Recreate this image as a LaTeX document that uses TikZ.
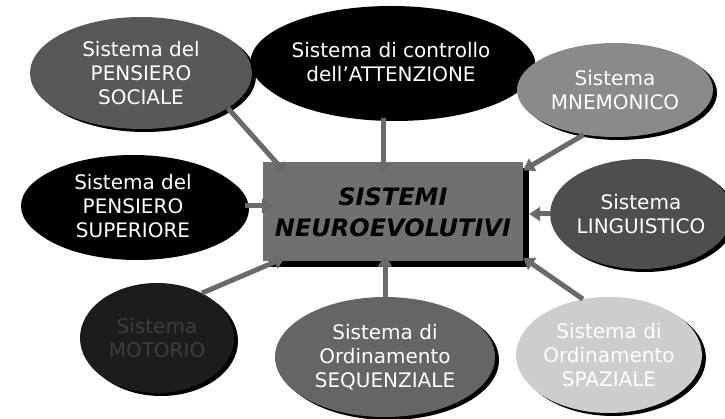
\documentclass[tikz,border=0pt]{standalone}
\usepackage{fontspec}
\setmainfont{DejaVu Sans}
\usepackage{xcolor}
\usetikzlibrary{shapes.geometric, arrows.meta, positioning, calc, shadows}

\definecolor{socfill}{HTML}{585858}
\definecolor{mnefill}{HTML}{8A8A8A}
\definecolor{linfill}{HTML}{4E4E4E}
\definecolor{motfill}{HTML}{1C1C1C}
\definecolor{mottext}{HTML}{3C3C3C}
\definecolor{seqfill}{HTML}{656565}
\definecolor{spafill}{HTML}{CDCDCD}
\definecolor{corefill}{HTML}{707070}
\definecolor{arrgray}{HTML}{6A6A6A}

\begin{document}
\begin{tikzpicture}[x=1pt, y=-1pt,
  ell/.style={ellipse, inner sep=0pt, align=center, text=white,
    font=\fontsize{20}{24}\selectfont,
    drop shadow={shadow xshift=4pt, shadow yshift=-3pt, fill=black, opacity=1}},
  core/.style={rectangle, fill=corefill, align=center,
    minimum width=260pt, minimum height=99pt,
    font=\fontsize{24}{31}\selectfont\bfseries\itshape,
    drop shadow={shadow xshift=6pt, shadow yshift=-6pt, fill=black, opacity=1}},
  arr/.style={line width=5pt, draw=arrgray, -{Triangle[width=14pt,length=11pt]}}]

  \useasboundingbox (0,0) rectangle (725,419);

  % centre box
  \node[core] (core) at (393,212) {SISTEMI\\NEUROEVOLUTIVI};

  % systems
  \node[ell, fill=socfill, minimum width=222pt, minimum height=112pt] (soc) at (141,73) {Sistema del\\PENSIERO\\SOCIALE};
  \node[ell, fill=black, minimum width=220pt, minimum height=112pt] (att) at (391,62) {Sistema di controllo\\dell'ATTENZIONE};
  \node[ell, fill=mnefill, minimum width=196pt, minimum height=94pt] (mne) at (615,90) {Sistema\\MNEMONICO};
  \node[ell, fill=black, minimum width=224pt, minimum height=102pt] (sup) at (133,206) {Sistema del\\PENSIERO\\SUPERIORE};
  \node[ell, fill=linfill, minimum width=168pt, minimum height=110pt] (lin) at (641,214) {Sistema\\LINGUISTICO};
  \node[ell, fill=motfill, text=mottext, minimum width=154pt, minimum height=110pt] (mot) at (157,338) {Sistema\\MOTORIO};
  \node[ell, fill=seqfill, minimum width=220pt, minimum height=120pt] (seq) at (385,357) {Sistema di\\Ordinamento\\SEQUENZIALE};
  \node[ell, fill=spafill, minimum width=182pt, minimum height=116pt] (spa) at (609,355) {Sistema di\\Ordinamento\\SPAZIALE};

  % arrows into the centre
  \draw[arr] (soc.-22) -- ($(core.north west)+(24,12)$);
  \draw[arr] ($(att.south)+(-8,0)$) -- ($(core.north)+(-10,12)$);
  \draw[arr] (mne.-125) -- ($(core.north east)+(0,8)$);
  \draw[arr] (sup.east) -- ($(core.west |- sup.east)+(10,0)$);
  \draw[arr] (lin.west) -- ($(core.east |- lin.west)+(6,0)$);
  \draw[arr] (mot.45) -- ($(core.south west)+(22,-4)$);
  \draw[arr] (seq.north) -- ($(seq.north |- core.south)+(0,-6)$);
  \draw[arr] (spa.115) -- ($(core.south east)+(0,-4)$);
\end{tikzpicture}
\end{document}
